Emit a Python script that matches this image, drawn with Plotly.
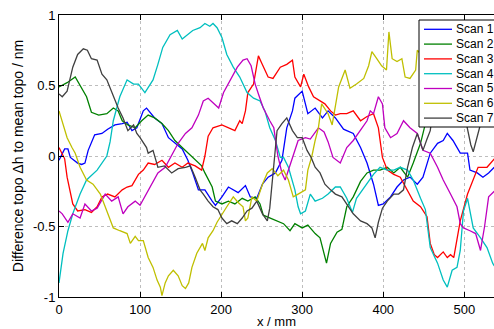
import plotly.graph_objects as go

# ---------------- data ----------------
scan_names = ["Scan 1", "Scan 2", "Scan 3", "Scan 4", "Scan 5", "Scan 6", "Scan 7"]

scan1_x = [0, 7, 11, 14, 23, 28, 32, 36, 44, 53, 60, 69, 78, 84, 90, 96, 104, 108, 118, 127, 135, 143, 152, 159, 165, 172, 180, 189, 193, 201, 209, 221, 230, 236, 244, 251, 258, 267, 275, 281, 288, 291, 300, 307, 316, 325, 332, 341, 351, 355, 363, 372, 380, 388, 394, 400, 409, 417, 425, 433, 442, 449, 458, 467, 474, 479, 486, 495, 504, 507, 516, 523, 530, 537]
scan1_y = [-0.03, 0.05, 0.05, -0.01, -0.05, -0.06, -0.05, 0.04, 0.15, 0.16, 0.19, 0.22, 0.23, 0.24, 0.18, 0.2, 0.32, 0.34, 0.27, 0.23, 0.13, 0.09, 0.05, -0.03, -0.12, -0.24, -0.24, -0.32, -0.35, -0.29, -0.22, -0.26, -0.21, -0.29, -0.3, -0.2, -0.15, -0.12, -0.03, 0.2, 0.32, 0.41, 0.46, 0.3, 0.34, 0.27, 0.32, 0.27, 0.19, 0.18, 0.16, 0.06, -0.05, -0.2, -0.35, -0.34, -0.29, -0.22, -0.17, -0.15, -0.2, -0.15, 0.02, 0.09, 0.11, 0.16, 0.11, 0.02, 0.02, -0.1, -0.12, -0.15, -0.12, -0.08]

scan2_x = [0, 10, 20, 26, 34, 40, 49, 59, 67, 73, 78, 85, 94, 102, 110, 118, 127, 135, 143, 152, 159, 168, 176, 180, 189, 193, 201, 209, 217, 226, 233, 242, 248, 252, 260, 269, 277, 285, 291, 300, 307, 316, 322, 330, 335, 343, 349, 355, 363, 372, 380, 388, 396, 405, 413, 421, 430, 437, 446, 452, 460, 470, 480, 490, 500, 510, 520, 530, 537]
scan2_y = [0.49, 0.52, 0.56, 0.5, 0.42, 0.31, 0.29, 0.3, 0.34, 0.32, 0.25, 0.22, 0.2, 0.25, 0.29, 0.27, 0.23, 0.18, 0.11, 0.06, 0.02, -0.03, -0.07, -0.12, -0.22, -0.32, -0.34, -0.32, -0.34, -0.3, -0.32, -0.29, -0.34, -0.42, -0.44, -0.46, -0.48, -0.53, -0.48, -0.51, -0.49, -0.55, -0.58, -0.76, -0.62, -0.54, -0.52, -0.36, -0.29, -0.18, -0.12, -0.1, -0.1, -0.08, -0.12, -0.08, -0.15, -0.05, 0.09, 0.23, 0.4, 0.5, 0.6, 0.6, 0.55, 0.5, 0.55, 0.5, 0.5]

scan3_x = [0, 4, 7, 10, 14, 17, 23, 32, 40, 47, 53, 60, 69, 78, 84, 90, 98, 104, 110, 118, 127, 135, 143, 152, 159, 168, 176, 180, 184, 190, 201, 209, 217, 223, 226, 230, 233, 240, 246, 250, 258, 264, 273, 281, 288, 291, 298, 302, 308, 314, 322, 328, 335, 341, 347, 355, 363, 372, 380, 388, 394, 399, 405, 413, 421, 430, 437, 446, 454, 458, 463, 467, 474, 479, 483, 487, 491, 495, 504, 511, 517, 528, 537]
scan3_y = [0.06, 0.02, -0.02, -0.15, -0.25, -0.34, -0.39, -0.38, -0.4, -0.36, -0.29, -0.27, -0.29, -0.24, -0.22, -0.21, -0.13, -0.1, -0.05, -0.06, -0.03, -0.08, -0.05, -0.08, -0.05, -0.07, -0.1, 0.0, 0.14, 0.2, 0.22, 0.2, 0.18, 0.25, 0.23, 0.32, 0.45, 0.51, 0.71, 0.66, 0.56, 0.55, 0.63, 0.65, 0.68, 0.56, 0.49, 0.58, 0.49, 0.42, 0.39, 0.37, 0.32, 0.29, 0.3, 0.3, 0.32, 0.25, 0.28, 0.3, 0.2, -0.01, -0.1, -0.13, -0.15, -0.24, -0.32, -0.36, -0.43, -0.62, -0.7, -0.72, -0.68, -0.72, -0.7, -0.72, -0.58, -0.46, -0.27, -0.17, -0.08, -0.08, -0.02]

scan4_x = [0, 5, 11, 17, 26, 34, 47, 59, 63, 67, 75, 84, 92, 98, 106, 116, 122, 128, 137, 146, 152, 158, 165, 174, 180, 186, 190, 195, 201, 207, 215, 223, 232, 240, 248, 254, 260, 267, 273, 277, 283, 291, 295, 298, 304, 310, 316, 325, 332, 341, 347, 355, 362, 367, 372, 380, 388, 396, 405, 413, 421, 430, 437, 446, 452, 458, 467, 474, 479, 485, 491, 495, 499, 504, 511, 520, 528, 535, 537]
scan4_y = [-0.9, -0.69, -0.53, -0.41, -0.27, -0.17, -0.1, 0.0, 0.1, 0.25, 0.42, 0.54, 0.51, 0.51, 0.45, 0.54, 0.65, 0.77, 0.86, 0.89, 0.83, 0.86, 0.89, 0.91, 0.94, 0.92, 0.94, 0.91, 0.84, 0.72, 0.63, 0.56, 0.45, 0.41, 0.39, 0.32, 0.2, 0.11, -0.01, -0.01, -0.08, -0.24, -0.36, -0.41, -0.39, -0.27, -0.32, -0.3, -0.27, -0.22, -0.22, -0.3, -0.4, -0.3, -0.26, -0.2, -0.13, -0.08, -0.1, -0.1, -0.08, -0.1, -0.17, -0.3, -0.38, -0.65, -0.76, -0.88, -0.93, -0.81, -0.79, -0.67, -0.39, -0.3, -0.51, -0.58, -0.65, -0.76, -0.78]

scan5_x = [0, 4, 11, 17, 26, 32, 40, 47, 57, 65, 73, 79, 85, 94, 100, 106, 115, 122, 131, 140, 147, 156, 164, 172, 178, 184, 190, 197, 203, 211, 220, 227, 232, 237, 242, 246, 252, 260, 265, 270, 275, 279, 284, 291, 295, 304, 310, 320, 327, 332, 338, 347, 355, 363, 372, 380, 384, 388, 394, 399, 402, 409, 417, 425, 433, 442, 449, 458, 467, 474, 483, 491, 495, 499, 507, 514, 520, 525, 530, 537]
scan5_y = [-0.39, -0.41, -0.47, -0.41, -0.44, -0.34, -0.39, -0.37, -0.27, -0.32, -0.29, -0.41, -0.36, -0.32, -0.35, -0.29, -0.2, -0.12, -0.08, 0.01, 0.09, 0.16, 0.2, 0.29, 0.39, 0.41, 0.38, 0.34, 0.45, 0.54, 0.63, 0.68, 0.69, 0.64, 0.51, 0.44, 0.34, 0.25, 0.2, 0.0, -0.12, -0.17, -0.08, 0.04, 0.11, 0.13, 0.12, 0.2, 0.17, 0.1, -0.01, -0.05, 0.06, 0.11, 0.18, 0.25, 0.32, 0.3, 0.42, 0.37, 0.2, 0.13, 0.16, 0.25, 0.2, 0.16, 0.04, 0.02, -0.08, -0.17, -0.27, -0.36, -0.48, -0.51, -0.53, -0.55, -0.67, -0.5, -0.29, -0.25]

scan6_x = [0, 5, 10, 16, 20, 26, 30, 34, 42, 51, 59, 67, 75, 84, 88, 94, 98, 104, 110, 116, 121, 125, 127, 131, 135, 141, 147, 152, 156, 160, 164, 170, 177, 180, 184, 190, 195, 201, 207, 215, 221, 227, 230, 233, 238, 244, 251, 257, 263, 270, 277, 283, 289, 295, 304, 307, 312, 316, 320, 324, 332, 337, 345, 353, 359, 367, 376, 382, 386, 392, 398, 404, 407, 411, 417, 423, 427, 433, 440, 442, 450, 460, 470, 480, 490, 500, 510, 520, 530, 537]
scan6_y = [0.32, 0.23, 0.13, 0.06, 0.02, -0.08, -0.13, -0.17, -0.2, -0.27, -0.39, -0.51, -0.53, -0.55, -0.62, -0.57, -0.6, -0.6, -0.72, -0.79, -0.88, -0.93, -0.99, -0.9, -0.85, -0.81, -0.85, -0.92, -0.94, -0.9, -0.79, -0.69, -0.62, -0.67, -0.58, -0.53, -0.47, -0.41, -0.36, -0.29, -0.33, -0.36, -0.46, -0.44, -0.29, -0.32, -0.2, -0.12, -0.09, -0.14, -0.1, -0.17, -0.29, -0.27, -0.24, -0.1, 0.0, 0.11, 0.2, 0.37, 0.3, 0.22, 0.49, 0.61, 0.48, 0.51, 0.55, 0.64, 0.74, 0.69, 0.64, 0.61, 0.88, 0.69, 0.67, 0.69, 0.56, 0.55, 0.61, 0.75, 0.7, 0.65, 0.6, 0.7, 0.65, 0.6, 0.65, 0.55, 0.6, 0.6]

scan7_x = [0, 4, 10, 14, 17, 23, 30, 35, 40, 47, 53, 59, 67, 73, 79, 85, 92, 96, 100, 108, 110, 116, 122, 130, 139, 147, 156, 162, 168, 174, 178, 184, 190, 196, 201, 207, 213, 220, 226, 232, 238, 244, 251, 257, 260, 264, 269, 275, 281, 288, 294, 300, 306, 311, 316, 322, 328, 335, 341, 349, 355, 363, 372, 380, 386, 390, 394, 399, 405, 413, 419, 425, 430, 436, 442, 446, 449, 454, 458, 462, 470, 480, 490, 500, 504, 508, 511, 515, 520, 528, 537]
scan7_y = [0.44, 0.42, 0.46, 0.56, 0.63, 0.72, 0.76, 0.75, 0.69, 0.68, 0.58, 0.54, 0.42, 0.34, 0.27, 0.18, 0.22, 0.16, 0.13, 0.06, 0.02, 0.04, -0.08, -0.07, -0.12, -0.09, -0.08, -0.07, -0.15, -0.24, -0.27, -0.32, -0.36, -0.38, -0.44, -0.48, -0.46, -0.48, -0.44, -0.39, -0.37, -0.32, -0.41, -0.46, -0.37, -0.1, 0.18, 0.23, 0.27, 0.18, 0.13, 0.13, 0.04, -0.01, -0.08, -0.12, -0.2, -0.24, -0.27, -0.29, -0.34, -0.41, -0.46, -0.48, -0.51, -0.58, -0.47, -0.37, -0.32, -0.27, -0.27, -0.24, -0.08, 0.06, 0.16, 0.09, 0.04, 0.12, 0.18, 0.35, 0.5, 0.55, 0.45, 0.3, 0.18, 0.08, 0.03, 0.12, 0.22, 0.4, 0.5]

x_ticks = [0, 100, 200, 300, 400, 500]
y_ticks = [-1, -0.5, 0, 0.5, 1]
y_tick_labels = ["-1", "-0.5", "0", "0.5", "1"]

series_x = [scan1_x, scan2_x, scan3_x, scan4_x, scan5_x, scan6_x, scan7_x]
series_y = [scan1_y, scan2_y, scan3_y, scan4_y, scan5_y, scan6_y, scan7_y]

# ---------------- styling ----------------
colors = ["#0000FF", "#008000", "#FF0000", "#00BFBF", "#BF00BF", "#BFBF00", "#404040"]
FONT = "Liberation Sans, Arial, Helvetica, sans-serif"
W, H = 494, 329
ML, MR, MT, MB = 59, 0, 15, 32
PW, PH = W - ML - MR, H - MT - MB


def px2paper_x(px):
    return (px - ML) / PW


def px2paper_y(py):
    return (H - MB - py) / PH


fig = go.Figure()
for name, xs, ys, c in zip(scan_names, series_x, series_y, colors):
    fig.add_trace(go.Scatter(x=xs, y=ys, mode="lines", name=name,
                             line=dict(color=c, width=1.3), showlegend=False))

# legend drawn as a boxed key (matches MATLAB's compact legend)
shapes = [dict(type="rect", xref="paper", yref="paper",
               x0=px2paper_x(419), x1=px2paper_x(560),
               y0=px2paper_y(127), y1=px2paper_y(20),
               fillcolor="white", line=dict(color="black", width=1), layer="above")]
annotations = []
row0, dy = 29.3, 14.8
for i, (name, c) in enumerate(zip(scan_names, colors)):
    py = row0 + i * dy
    shapes.append(dict(type="line", xref="paper", yref="paper",
                       x0=px2paper_x(424), x1=px2paper_x(452),
                       y0=px2paper_y(py), y1=px2paper_y(py),
                       line=dict(color=c, width=1.3), layer="above"))
    annotations.append(dict(xref="paper", yref="paper", x=px2paper_x(455), y=px2paper_y(py),
                            text=name, showarrow=False, xanchor="left", yanchor="middle",
                            borderpad=0,
                            font=dict(family=FONT, size=12, color="black")))

fig.update_layout(
    width=W, height=H,
    margin=dict(l=ML, r=MR, t=MT, b=MB, pad=0),
    paper_bgcolor="white", plot_bgcolor="white",
    font=dict(family=FONT, size=13, color="black"),
    shapes=shapes, annotations=annotations,
    showlegend=False,
)
fig.update_xaxes(
    range=[0, PW / 0.8106], tickvals=x_ticks, ticks="inside", ticklen=5,
    tickcolor="black", showline=True, linecolor="black", linewidth=1, mirror="ticks",
    showgrid=True, gridcolor="#bdbdbd", griddash="dot", gridwidth=1, zeroline=False,
    tickfont=dict(family=FONT, size=13, color="black"),
    title=dict(text="x / mm", font=dict(family=FONT, size=13, color="black"), standoff=6),
    automargin=False,
)
fig.update_yaxes(
    range=[-1, 1], tickvals=y_ticks, ticktext=y_tick_labels, ticks="inside", ticklen=5,
    tickcolor="black", showline=True, linecolor="black", linewidth=1, mirror=False,
    showgrid=True, gridcolor="#bdbdbd", griddash="dot", gridwidth=1, zeroline=False,
    tickfont=dict(family=FONT, size=13, color="black"),
    title=dict(text="Difference topo Δh to mean topo / nm",
               font=dict(family=FONT, size=14, color="black"), standoff=6),
    automargin=False,
)

fig.write_html("out.html")
